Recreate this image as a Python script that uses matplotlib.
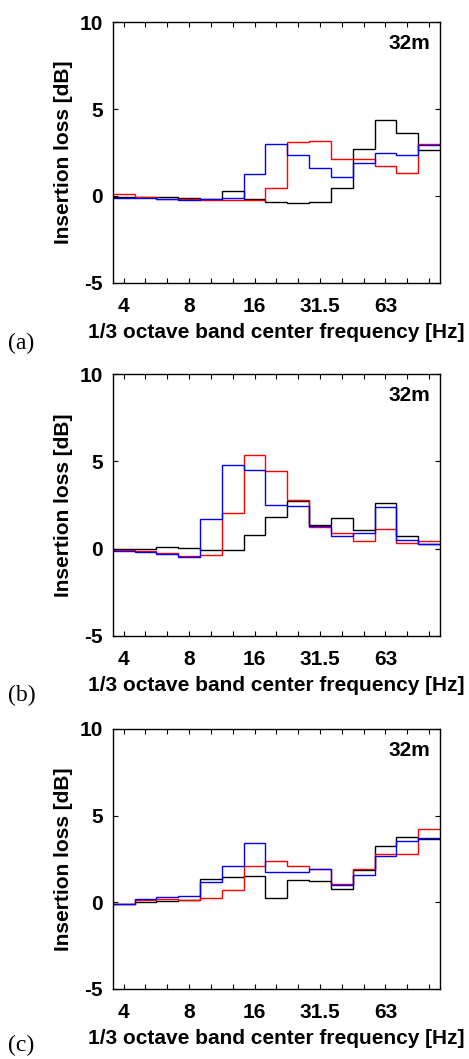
import numpy as np
import matplotlib
matplotlib.use("Agg")
import matplotlib.pyplot as plt

plt.rcParams["font.family"] = ["Liberation Sans", "DejaVu Sans"]
plt.rcParams["font.weight"] = "bold"

# 1/3 octave band centres, 4 Hz .. 100 Hz
bands = ["4", "5", "6.3", "8", "10", "12.5", "16", "20", "25", "31.5",
         "40", "50", "63", "80", "100"]
labelled = ["4", "8", "16", "31.5", "63"]

# Insertion loss [dB] per band, three cases per panel
a_black = [-0.05, -0.05, -0.05, -0.13, -0.2, 0.31, -0.15, -0.33, -0.4, -0.37,
           0.48, 2.73, 4.4, 3.6, 2.67]
a_blue = [-0.1, -0.13, -0.17, -0.23, -0.2, -0.12, 1.25, 3.0, 2.33, 1.62,
          1.06, 1.87, 2.46, 2.35, 2.92]
a_red = [0.1, -0.08, -0.15, -0.17, -0.21, -0.25, -0.21, 0.48, 3.1, 3.17,
         2.1, 2.1, 1.71, 1.33, 3.0]

b_black = [-0.02, -0.02, 0.1, 0.06, -0.1, -0.06, 0.77, 1.83, 2.73, 1.35,
           1.75, 1.04, 2.62, 0.71, 0.25]
b_blue = [-0.12, -0.19, -0.29, -0.48, 1.71, 4.81, 4.48, 2.52, 2.42, 1.29,
          0.71, 0.87, 2.37, 0.5, 0.27]
b_red = [-0.08, -0.15, -0.25, -0.42, -0.35, 2.06, 5.37, 4.44, 2.79, 1.21,
         0.88, 0.46, 1.15, 0.33, 0.42]

c_black = [-0.08, 0.04, 0.08, 0.13, 1.36, 1.48, 1.52, 0.27, 1.27, 1.23,
           0.77, 1.86, 3.25, 3.77, 3.63]
c_blue = [-0.1, 0.21, 0.31, 0.38, 1.19, 2.12, 3.42, 1.75, 1.75, 1.9,
          1.0, 1.6, 2.69, 3.52, 3.7]
c_red = [-0.12, 0.12, 0.19, 0.15, 0.23, 0.73, 2.12, 2.37, 2.12, 1.94,
         1.04, 1.94, 2.79, 2.79, 4.23]

panels = [
    ("(a)", a_black, a_red, a_blue),
    ("(b)", b_black, b_red, b_blue),
    ("(c)", c_black, c_red, c_blue),
]

W, H = 469, 1059
fig = plt.figure(figsize=(W / 100, H / 100), dpi=100)

# axes boxes in pixels: (left, top, right, bottom)
boxes = [(112.7, 22.3, 440, 282.7), (112.7, 374.3, 440, 635.7), (112.7, 729, 440, 989)]
letter_y = [343, 695, 1045]

edges = np.arange(len(bands) + 1) - 0.5
pos = np.arange(len(bands))
fs = 15

for (tag, k, r, b), (l, t, rr, bt), ly in zip(panels, boxes, letter_y):
    ax = fig.add_axes([l / W, 1 - bt / H, (rr - l) / W, (bt - t) / H])
    ax.stairs(k, edges, baseline=None, color="black", lw=1.0)
    ax.stairs(r, edges, baseline=None, color="red", lw=1.0)
    ax.stairs(b, edges, baseline=None, color="blue", lw=1.0)
    ax.set_xlim(edges[0], edges[-1])
    ax.set_ylim(-5, 10)
    ax.set_yticks([-5, 0, 5, 10])
    ax.set_yticklabels(["-5", "0", "5", "10"])
    ax.set_xticks(pos)
    ax.set_xticklabels([s if s in labelled else "" for s in bands])
    ax.tick_params(direction="in", top=True, right=True, length=3.5, width=0.8,
                   labelsize=fs)
    ax.tick_params(axis="x", pad=10)
    ax.tick_params(axis="y", pad=7)
    for lab in ax.get_xticklabels() + ax.get_yticklabels():
        lab.set_fontweight("bold")
    for sp in ax.spines.values():
        sp.set_linewidth(1.0)
    ax.set_ylabel("Insertion loss [dB]", fontsize=fs, fontweight="bold", labelpad=5)
    ax.set_xlabel("1/3 octave band center frequency [Hz]", fontsize=fs,
                  fontweight="bold", labelpad=5)
    ax.text(0.97, 0.955, "32m", transform=ax.transAxes, ha="right", va="top",
            fontsize=fs, fontweight="bold")
    fig.text(8 / W, 1 - ly / H, tag, ha="left", va="center", fontsize=17,
             family=["Liberation Serif", "DejaVu Serif"], fontweight="normal")

fig.savefig("out.png", dpi=100)
